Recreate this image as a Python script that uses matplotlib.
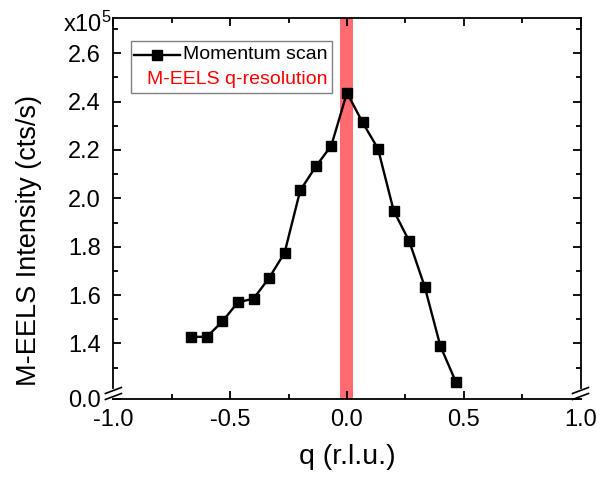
import numpy as np
import matplotlib.pyplot as plt
from matplotlib.lines import Line2D
from matplotlib.patches import Rectangle
from matplotlib.ticker import FixedLocator, FormatStrFormatter

plt.rcParams['font.family'] = ['Liberation Sans', 'DejaVu Sans']
plt.rcParams['mathtext.fontset'] = 'custom'
plt.rcParams['mathtext.rm'] = 'Liberation Sans'
plt.rcParams['mathtext.it'] = 'Liberation Sans:italic'

# momentum scan: q in r.l.u., intensity in units of 1e5 cts/s
q = [-0.667, -0.600, -0.533, -0.467, -0.400, -0.333, -0.267, -0.200, -0.133,
     -0.067, 0.000, 0.067, 0.133, 0.200, 0.267, 0.333, 0.400, 0.467]
intensity = [1.427, 1.427, 1.491, 1.570, 1.585, 1.671, 1.775, 2.033, 2.132,
             2.218, 2.437, 2.314, 2.205, 1.949, 1.822, 1.634, 1.389, 1.239]
q_res = 0.028  # half width of the M-EELS q-resolution

x_major = [-1.0, -0.5, 0.0, 0.5, 1.0]
x_minor = [-0.75, -0.25, 0.25, 0.75]
y_major = [0.0, 1.4, 1.6, 1.8, 2.0, 2.2, 2.4, 2.6]
y_minor = [1.3, 1.5, 1.7, 1.9, 2.1, 2.3, 2.5, 2.7]
y_top = 2.746

# broken y axis: 0..brk_lo squeezed at the bottom, brk_lo..brk_hi cut out
brk_lo, brk_hi = 0.02, 1.203
knots_in = [-10.0, 0.0, brk_lo, brk_hi, 10.0]
knots_out = [-10.0, 0.0, 0.0124, 0.0331, 0.0331 + 10.0 - brk_hi]


def fwd(y):
    return np.interp(y, knots_in, knots_out)


def inv(y):
    return np.interp(y, knots_out, knots_in)


fig = plt.figure(figsize=(6.0, 4.78), dpi=100)
ax = fig.add_axes([0.189, 0.1653, 0.7785, 0.797])
ax.set_yscale('function', functions=(fwd, inv))

ax.axvspan(-q_res, q_res, color='#ff6b6e', lw=0, zorder=1)
ax.plot(q, intensity, color='black', lw=1.7, marker='s', ms=6.5,
        markeredgecolor='black', zorder=3)

ax.set_xlim(-1.0, 1.0)
ax.set_ylim(0.0, y_top)
ax.xaxis.set_major_locator(FixedLocator(x_major))
ax.xaxis.set_minor_locator(FixedLocator(x_minor))
ax.yaxis.set_major_locator(FixedLocator(y_major))
ax.yaxis.set_minor_locator(FixedLocator(y_minor))
ax.xaxis.set_major_formatter(FormatStrFormatter('%.1f'))
ax.yaxis.set_major_formatter(FormatStrFormatter('%.1f'))

ax.tick_params(which='both', direction='in', top=True, right=True, width=1.3)
ax.tick_params(which='major', length=6, labelsize=17)
ax.tick_params(which='minor', length=3.5)
ax.tick_params(axis='x', pad=7)
ax.tick_params(axis='y', pad=9)
for sp in ax.spines.values():
    sp.set_linewidth(1.3)

ax.set_xlabel('q (r.l.u.)', fontsize=20.5)
ax.set_ylabel('M-EELS Intensity (cts/s)', fontsize=19.5)
ax.xaxis.set_label_coords(0.5, -0.118)
ax.yaxis.set_label_coords(-0.152, 0.417)
ax.text(-0.003, 0.984, r'x10$^{5}$', transform=ax.transAxes, ha='right',
        va='center', fontsize=17)

# break marks on both side spines
w_px, h_px = 467.0, 381.0
yb = (0.5 * (knots_out[2] + knots_out[3])) / fwd(y_top)
for xs in (0.0, 1.0):
    ax.plot([xs, xs], [yb - 2.5 / h_px, yb + 2.5 / h_px], color='white', lw=3,
            transform=ax.transAxes, clip_on=False, zorder=5)
    for off in (-3.0, 3.0):
        ax.plot([xs - 8 / w_px, xs + 8 / w_px],
                [yb + (off - 3) / h_px, yb + (off + 3) / h_px],
                color='black', lw=1.2, transform=ax.transAxes,
                clip_on=False, zorder=6)

# legend box
ax.add_patch(Rectangle((0.0375, 0.803), 0.4305, 0.137, transform=ax.transAxes,
                       facecolor='white', edgecolor='#808080', lw=1, zorder=4))
ax.add_line(Line2D([0.044, 0.143], [0.903, 0.903], color='black', lw=1.7,
                   transform=ax.transAxes, zorder=5))
ax.add_line(Line2D([0.0935], [0.903], color='black', marker='s', ms=6.5,
                   transform=ax.transAxes, zorder=5))
ax.text(0.149, 0.903, 'Momentum scan', transform=ax.transAxes, ha='left',
        va='center', fontsize=14, zorder=5)
ax.text(0.459, 0.838, 'M-EELS q-resolution', transform=ax.transAxes,
        ha='right', va='center', fontsize=14, color='#ff0000', zorder=5)

fig.savefig('out.png', dpi=100)
